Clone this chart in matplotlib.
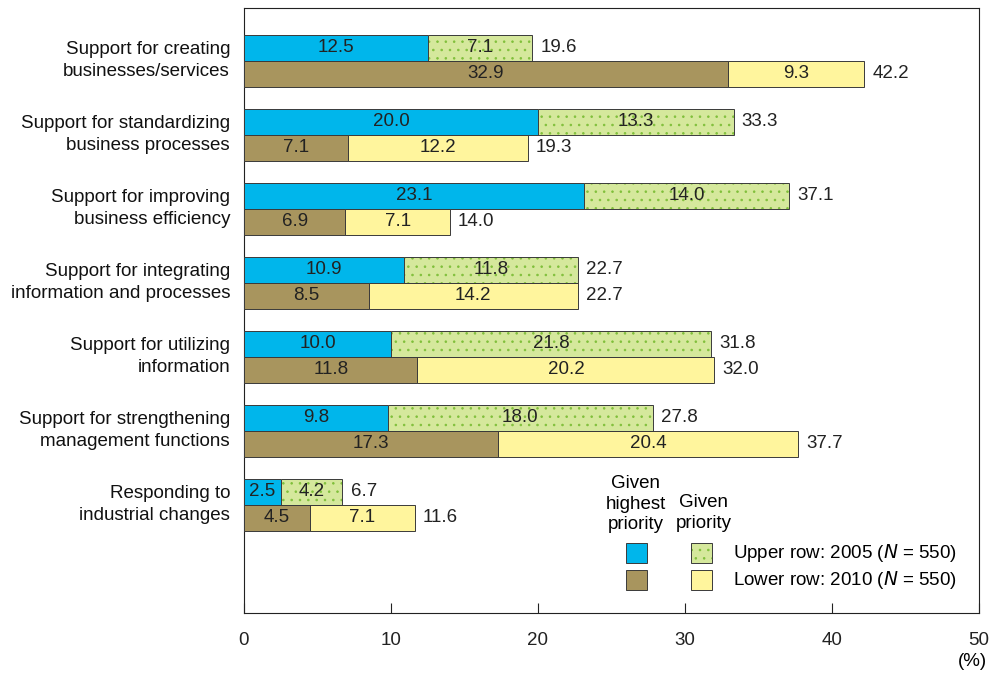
import numpy as np
from matplotlib import pyplot as plt
from matplotlib.patches import Rectangle

plt.rcParams['font.family'] = ['Liberation Sans', 'DejaVu Sans']
plt.rcParams['hatch.linewidth'] = 0.6

categories = [
    "Support for creating\nbusinesses/services",
    "Support for standardizing\nbusiness processes",
    "Support for improving\nbusiness efficiency",
    "Support for integrating\ninformation and processes",
    "Support for utilizing\ninformation",
    "Support for strengthening\nmanagement functions",
    "Responding to\nindustrial changes",
]
top_2005 = [12.5, 20.0, 23.1, 10.9, 10.0, 9.8, 2.5]
prio_2005 = [7.1, 13.3, 14.0, 11.8, 21.8, 18.0, 4.2]
top_2010 = [32.9, 7.1, 6.9, 8.5, 11.8, 17.3, 4.5]
prio_2010 = [9.3, 12.2, 7.1, 14.2, 20.2, 20.4, 7.1]
xticks = [0, 10, 20, 30, 40, 50]

c_cyan = '#00b6eb'
c_green = '#d5e89c'
c_dots = '#7fbf3a'
c_brown = '#a8955e'
c_yellow = '#fff59d'
c_edge = '#3a3a3a'

fig = plt.figure(figsize=(9.91, 6.74), dpi=100)
ax = fig.add_axes([0.2462, 0.0905, 0.7417, 0.8976])

h = 26 / 74
y = np.arange(len(categories))
fs = 13.5
lw = 0.7
first_color_map = {c_green: c_cyan, c_yellow: c_brown}


def draw_row(ypos, first, second, second_color, dotted):
    first = np.array(first)
    second = np.array(second)
    ax.barh(ypos, first, height=h, color=first_color_map[second_color],
            edgecolor=c_edge, linewidth=lw, zorder=3)
    if dotted:
        ax.barh(ypos, second, left=first, height=h, color=second_color,
                edgecolor=c_dots, linewidth=0, hatch='..', zorder=3)
        ax.barh(ypos, second, left=first, height=h, fill=False,
                edgecolor=c_edge, linewidth=lw, zorder=4)
    else:
        ax.barh(ypos, second, left=first, height=h, color=second_color,
                edgecolor=c_edge, linewidth=lw, zorder=3)
    for yy, a, b in zip(ypos, first, second):
        ax.text(a / 2, yy, f"{a:.1f}", ha='center', va='center',
                fontsize=fs, color='#222222', zorder=5)
        ax.text(a + b / 2, yy, f"{b:.1f}", ha='center', va='center',
                fontsize=fs, color='#222222', zorder=5)
        ax.text(a + b + 0.55, yy, f"{a + b:.1f}", ha='left', va='center',
                fontsize=fs, color='#222222', zorder=5)


draw_row(y - h / 2, top_2005, prio_2005, c_green, True)
draw_row(y + h / 2, top_2010, prio_2010, c_yellow, False)

ax.set_xlim(0, 50)
ax.set_ylim(y[-1] + (613 - 60.5 - 74 * 6) / 74, -(60.5 - 8) / 74)
ax.set_xticks(xticks)
ax.set_xticklabels([str(t) for t in xticks], fontsize=fs)
ax.tick_params(axis='x', direction='in', length=7, width=0.8, pad=14, colors='#222222')
ax.set_yticks([])
for s in ax.spines.values():
    s.set_linewidth(0.8)
    s.set_color('#222222')

for yy, cat in zip(y, categories):
    ax.text(-0.95, yy, cat, ha='right', va='center', fontsize=fs,
            linespacing=1.35, color='#111111', clip_on=False)

fig.text(987 / 991, 1 - 662 / 674, "(%)", ha='right', va='center', fontsize=fs)


# legend block drawn by hand, positions given in pixels
def px(xp, yp):
    return (xp - 244) / 14.7, (yp - 60.5) / 74


x0, _ = px(636, 0)
ax.text(x0, px(0, 504)[1], "Given\nhighest\npriority", ha='center', va='center',
        fontsize=fs, linespacing=1.3)
x1, _ = px(704, 0)
ax.text(x1, px(0, 513)[1], "Given\npriority", ha='center', va='center',
        fontsize=fs, linespacing=1.3)

sw_w = 21 / 14.7
sw_h = 20 / 74
for xc, yc, col, dot in [(637, 553, c_cyan, False), (702, 553, c_green, True),
                         (637, 580, c_brown, False), (702, 580, c_yellow, False)]:
    xx, yy = px(xc, yc)
    if dot:
        ax.add_patch(Rectangle((xx - sw_w / 2, yy - sw_h / 2), sw_w, sw_h,
                               facecolor=col, edgecolor=c_dots, linewidth=0,
                               hatch='..', zorder=3))
        ax.add_patch(Rectangle((xx - sw_w / 2, yy - sw_h / 2), sw_w, sw_h,
                               fill=False, edgecolor=c_edge, linewidth=lw, zorder=4))
    else:
        ax.add_patch(Rectangle((xx - sw_w / 2, yy - sw_h / 2), sw_w, sw_h,
                               facecolor=col, edgecolor=c_edge, linewidth=lw, zorder=3))

lx, ly = px(733, 553)
ax.text(lx, ly, r"Upper row: 2005 ($\mathit{N}$ = 550)", ha='left', va='center', fontsize=fs)
lx, ly = px(733, 580)
ax.text(lx, ly, r"Lower row: 2010 ($\mathit{N}$ = 550)", ha='left', va='center', fontsize=fs)

fig.savefig("out.png", dpi=100)
